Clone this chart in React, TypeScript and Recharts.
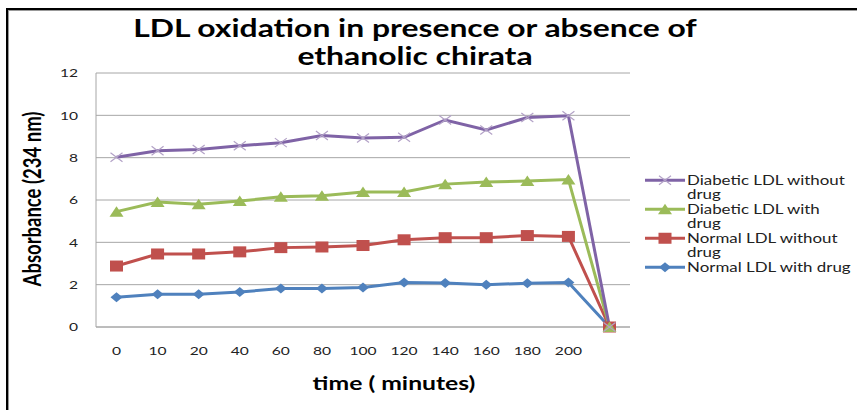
import { LineChart, Line, XAxis, YAxis, CartesianGrid, Legend } from 'recharts';

const categories = ['0', '10', '20', '40', '60', '80', '100', '120', '140', '160', '180', '200', ''];
const diabeticNoDrug = [8.02, 8.33, 8.39, 8.56, 8.71, 9.05, 8.93, 8.96, 9.78, 9.31, 9.9, 9.98, 0];
const diabeticDrug = [5.45, 5.9, 5.8, 5.95, 6.15, 6.2, 6.38, 6.38, 6.75, 6.85, 6.9, 6.97, 0];
const normalNoDrug = [2.88, 3.45, 3.45, 3.55, 3.75, 3.78, 3.85, 4.12, 4.22, 4.22, 4.32, 4.28, 0];
const normalDrug = [1.4, 1.55, 1.55, 1.65, 1.82, 1.82, 1.87, 2.1, 2.08, 2.0, 2.07, 2.1, 0];
const yTicks = [0, 2, 4, 6, 8, 10, 12];

const FONT = 'Lato, "Open Sans", sans-serif';
// the original picture is stretched sideways, so text is widened to match
const SX = 1.3;

const data = categories.map((t, i) => ({
  time: t,
  dnd: diabeticNoDrug[i],
  dd: diabeticDrug[i],
  nnd: normalNoDrug[i],
  nd: normalDrug[i],
}));

const series = [
  { key: 'dnd', name: 'Diabetic LDL without drug', color: '#7F63A6', marker: 'cross' },
  { key: 'dd', name: 'Diabetic LDL with drug', color: '#9BBB59', marker: 'triangle' },
  { key: 'nnd', name: 'Normal LDL without drug', color: '#C0504D', marker: 'square' },
  { key: 'nd', name: 'Normal LDL with drug', color: '#4F81BD', marker: 'diamond' },
];

function Marker({ type, cx, cy, color }: any) {
  if (type === 'cross') {
    return (
      <path
        d={`M${cx - 6},${cy - 4.5}L${cx + 6},${cy + 4.5}M${cx - 6},${cy + 4.5}L${cx + 6},${cy - 4.5}`}
        stroke="#B3A2C7"
        strokeWidth={1.2}
        fill="none"
      />
    );
  }
  if (type === 'triangle') {
    return <path d={`M${cx},${cy - 5.5}L${cx + 7},${cy + 5}L${cx - 7},${cy + 5}Z`} fill={color} />;
  }
  if (type === 'square') {
    return <rect x={cx - 6.5} y={cy - 5.5} width={13} height={11} fill={color} />;
  }
  return <path d={`M${cx},${cy - 5}L${cx + 6},${cy}L${cx},${cy + 5}L${cx - 6},${cy}Z`} fill={color} />;
}

// long names wrap their last word onto a second line, as in the original legend
function legendLines(name: string) {
  if (name.length <= 20) return [name];
  const cut = name.lastIndexOf(' ');
  return [name.slice(0, cut), name.slice(cut + 1)];
}

function LegendBox() {
  return (
    <div style={{ width: 214, fontFamily: FONT, fontSize: 13, lineHeight: '14.5px', color: '#222' }}>
      {series.map((s) => (
        <div key={s.key} style={{ display: 'flex', alignItems: 'flex-start' }}>
          <svg width={44} height={14.5} style={{ flex: 'none' }}>
            <line x1={2} y1={7.25} x2={42} y2={7.25} stroke={s.color} strokeWidth={3} />
            <Marker type={s.marker} cx={22} cy={7.25} color={s.color} />
          </svg>
          <div style={{ transform: `scaleX(${SX})`, transformOrigin: 'left center', whiteSpace: 'nowrap' }}>
            {legendLines(s.name).map((l, i) => (
              <div key={i}>{l}</div>
            ))}
          </div>
        </div>
      ))}
    </div>
  );
}

function XTick({ x, y, payload }: any) {
  return (
    <text transform={`translate(${x},${y}) scale(${SX},1)`} textAnchor="middle" dy="0.71em" fill="#222" fontSize={12} fontFamily={FONT}>
      {payload.value}
    </text>
  );
}

function YTick({ x, y, payload }: any) {
  return (
    <text transform={`translate(${x},${y}) scale(${SX},1)`} textAnchor="end" dy="0.355em" fill="#222" fontSize={12} fontFamily={FONT}>
      {payload.value}
    </text>
  );
}

export default function App() {
  return (
    <div style={{ position: 'absolute', left: 0, top: 0, width: 857, height: 410, overflow: 'hidden', background: '#fff' }}>
      <div style={{ position: 'absolute', left: 6, top: 8, width: 1000, height: 1000, borderLeft: '2px solid #000', borderTop: '2px solid #000' }}>
        <div style={{ position: 'absolute', left: 0, top: 0, width: 1000, height: 1000, borderLeft: '1px solid #999', borderTop: '1px solid #999' }} />
      </div>
      <div
        style={{
          position: 'absolute',
          left: 0,
          top: 14,
          width: 830,
          textAlign: 'center',
          fontFamily: FONT,
          fontWeight: 700,
          fontSize: 24.5,
          lineHeight: '28px',
          color: '#000',
          transform: `scaleX(${SX})`,
          transformOrigin: '415px 0',
        }}
      >
        LDL oxidation in presence or absence of
        <br />
        ethanolic chirata
      </div>
      <div
        style={{
          position: 'absolute',
          left: 32,
          top: 199,
          transform: `translate(-50%, -50%) rotate(-90deg) scaleY(${SX})`,
          whiteSpace: 'nowrap',
          fontFamily: FONT,
          fontWeight: 700,
          fontSize: 18.5,
          color: '#000',
        }}
      >
        Absorbance (234 nm)
      </div>
      <div
        style={{
          position: 'absolute',
          left: 394,
          top: 382,
          transform: `translate(-50%, -50%) scaleX(${SX})`,
          whiteSpace: 'nowrap',
          fontFamily: FONT,
          fontWeight: 700,
          fontSize: 19,
          color: '#000',
        }}
      >
        time ( minutes)
      </div>
      <div style={{ position: 'absolute', left: 0, top: 0 }}>
        <LineChart width={857} height={410} data={data} margin={{ top: 73, right: 13, bottom: 53, left: 0 }}>
          <CartesianGrid vertical={false} stroke="#A6A6A6" />
          <XAxis
            dataKey="time"
            height={30}
            padding={{ left: 20.5, right: 20.5 }}
            tickLine={false}
            tickSize={0}
            tickMargin={19}
            stroke="#A6A6A6"
            tick={<XTick />}
            interval={0}
          />
          <YAxis
            width={96}
            domain={[0, 12]}
            ticks={yTicks}
            tickLine={false}
            tickSize={0}
            tickMargin={18}
            stroke="#A6A6A6"
            tick={<YTick />}
          />
          <Legend
            layout="vertical"
            align="right"
            verticalAlign="top"
            wrapperStyle={{ left: 643, top: 172.75, width: 214 }}
            content={() => <LegendBox />}
          />
          {[...series].reverse().map((s) => (
            <Line
              key={s.key}
              dataKey={s.key}
              name={s.name}
              type="linear"
              stroke={s.color}
              strokeWidth={3}
              isAnimationActive={false}
              dot={(p: any) => <Marker key={`${s.key}-${p.index}`} type={s.marker} cx={p.cx} cy={p.cy} color={s.color} />}
              activeDot={false}
            />
          ))}
        </LineChart>
      </div>
    </div>
  );
}
